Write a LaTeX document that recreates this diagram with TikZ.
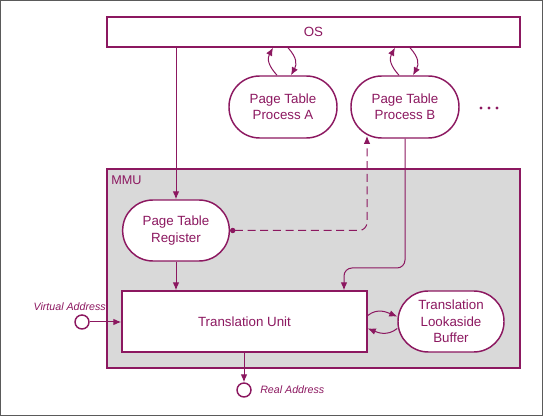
\documentclass[tikz,border=0pt]{standalone}
\usepackage{fontspec}
\setmainfont{Liberation Sans}
\usetikzlibrary{arrows.meta,calc}
\definecolor{mag}{RGB}{140,24,96}
\definecolor{mmugray}{RGB}{217,217,217}
\definecolor{framegray}{RGB}{90,90,90}
\begin{document}
\begin{tikzpicture}[x=0.75pt,y=-0.75pt,
  box/.style={draw=mag, line width=1.1pt, fill=white, text=mag,
    font=\fontsize{10}{12.3}\selectfont, align=center, inner sep=0pt},
  pill/.style={box, rounded corners=23pt, minimum width=81pt, minimum height=46.5pt},
  smallpill/.style={box, rounded corners=22.7pt, minimum width=80pt, minimum height=45.75pt},
  arr/.style={draw=mag, line width=0.75pt, -{Latex[length=6pt,width=5pt]}},
  term/.style={circle, draw=mag, line width=1.1pt, fill=white, minimum size=10.5pt, inner sep=0pt},
  lbl/.style={text=mag, font=\fontsize{8}{10}\selectfont\itshape, inner sep=0pt}]
\useasboundingbox (0,0) rectangle (543,416);
\draw[line width=0.9pt, draw=framegray] (0.6,0.6) rectangle (542.4,415.4);

% MMU container
\node[draw=mag, fill=mmugray, line width=1.1pt, minimum width=309.75pt,
  minimum height=149.25pt, inner sep=0pt] (mmu) at (313.5,268.5) {};
\node[anchor=west, text=mag, font=\fontsize{9.5}{11}\selectfont, inner sep=0pt]
  (mmulbl) at (111,180) {MMU};

% nodes
\node[box, minimum width=309.75pt, minimum height=22.5pt] (os) at (313.5,32) {OS};
\node[pill] (pa) at (283,107) {Page Table\\Process A};
\node[pill] (pb) at (405,107) {Page Table\\Process B};
\node[smallpill] (ptr) at (176,230.5) {Page Table\\Register};
\node[box, minimum width=183.75pt, minimum height=45.75pt] (tu) at (244.5,321.5) {Translation Unit};
\node[smallpill, minimum width=79.5pt] (tlb) at (451,321.5) {Translation\\Lookaside\\Buffer};

% dots
\foreach \x in {481,489,497} \fill[mag] (\x,108) circle (1.3pt);

% OS -> PTR -> TU
\draw[arr] (ptr.north |- os.south) -- (ptr.north);
\draw[arr] (ptr.south) -- (ptr.south |- tu.north);

% PTR -> Process B (dashed)
\coordinate (bin) at (367,136);
\draw[draw=mag, line width=0.75pt, dash pattern=on 6pt off 3.5pt,
  {Circle[length=4pt,width=4pt]}-{Latex[length=6pt,width=5pt]}, rounded corners=6pt]
  (ptr.east) -| (bin);

% Process B -> TU
\coordinate (bturn) at (344,268);
\draw[arr, rounded corners=6pt] (pb.south) |- (bturn) -- (bturn |- tu.north);

% loops OS <-> page tables
\draw[arr] ($(pa.north)+(-6,0)$) .. controls +(-9,-10) and +(-6,11) .. ($(pa.north |- os.south)+(-10,0)$);
\draw[arr] ($(pa.north |- os.south)+(5,0)$) .. controls +(9,10) and +(6,-11) .. ($(pa.north)+(8,0)$);
\draw[arr] ($(pb.north)+(-6,0)$) .. controls +(-9,-10) and +(-6,11) .. ($(pb.north |- os.south)+(-10,0)$);
\draw[arr] ($(pb.north |- os.south)+(5,0)$) .. controls +(9,10) and +(6,-11) .. ($(pb.north)+(8,0)$);

% TU <-> TLB
\draw[arr] ($(tu.east)+(0,-6)$) .. controls +(10,-8) and +(-10,-4) .. ($(tlb.west)+(0,-5)$);
\draw[arr] ($(tlb.west)+(0,7)$) .. controls +(-10,8) and +(10,4) .. ($(tu.east)+(0,7)$);

% terminals
\node[term] (va) at (82,322) {};
\node[lbl, anchor=base east] (valbl) at (106,311) {Virtual Address};
\draw[arr] (va.east) -- (va -| tu.west);
\node[term] (ra) at (244,390) {};
\node[lbl, anchor=west] (ralbl) at (260,390) {Real Address};
\draw[arr] (tu.south -| ra) -- (ra.north);
\end{tikzpicture}
\end{document}
